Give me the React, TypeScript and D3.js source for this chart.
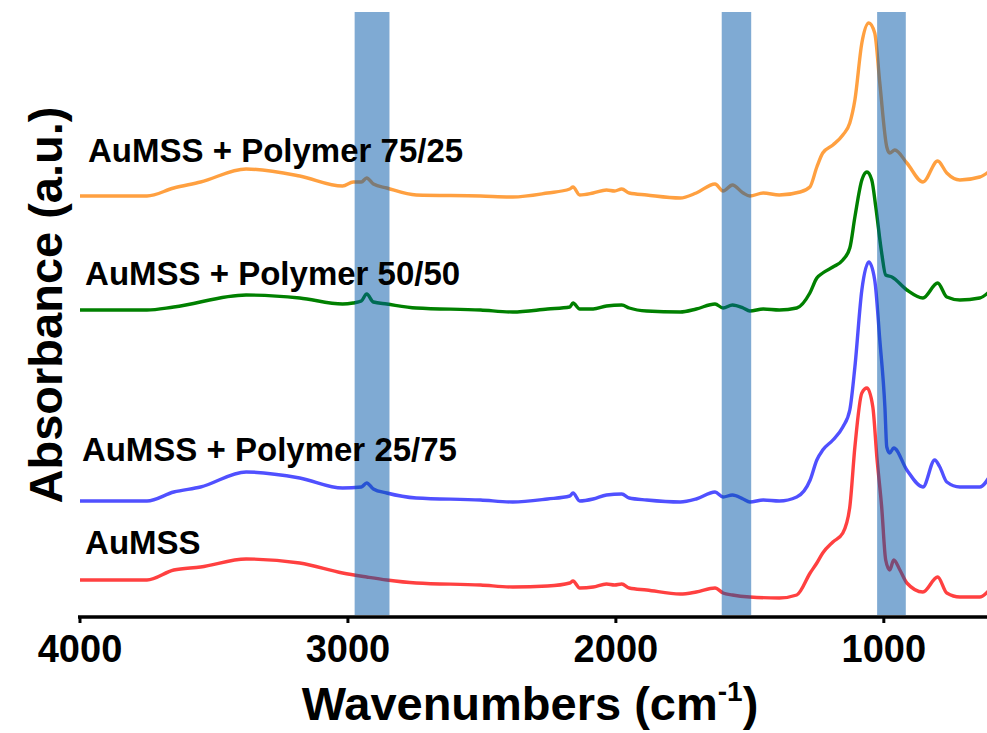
import * as d3 from 'd3';

// wavenumbers (cm-1) sampled along each trace
const wnRed = [4000, 3750, 3650, 3550, 3380, 3180, 3020, 2930, 2855, 2745, 2505, 2385, 2255, 2172, 2160, 2135, 2085, 2035, 2005, 1978, 1950, 1885, 1760, 1700, 1630, 1600, 1565, 1500, 1390, 1325, 1275, 1250, 1228, 1190, 1153, 1127, 1108, 1082, 1063, 1041, 1026, 1008, 993, 978, 963, 940, 914, 854, 799, 765, 716, 642, 600];
const auMSS = [0.37, 0.37, 0.47, 0.5, 0.58, 0.54, 0.44, 0.4, 0.37, 0.34, 0.32, 0.3, 0.31, 0.34, 0.36, 0.29, 0.3, 0.33, 0.32, 0.33, 0.29, 0.27, 0.23, 0.25, 0.29, 0.24, 0.22, 0.2, 0.19, 0.22, 0.44, 0.54, 0.64, 0.75, 0.84, 1.1, 1.7, 2.24, 2.29, 2.1, 1.6, 1.1, 0.57, 0.47, 0.57, 0.47, 0.34, 0.25, 0.4, 0.24, 0.2, 0.2, 0.29];

const wnBlue = [4000, 3750, 3650, 3550, 3380, 3180, 3020, 2950, 2930, 2905, 2855, 2745, 2505, 2385, 2255, 2172, 2160, 2135, 2085, 2035, 1978, 1950, 1885, 1760, 1700, 1630, 1600, 1565, 1525, 1500, 1450, 1390, 1325, 1275, 1250, 1228, 1190, 1153, 1127, 1108, 1082, 1056, 1034, 1015, 996, 989, 978, 963, 914, 854, 810, 791, 765, 716, 642, 600];
const poly2575 = [1.16, 1.16, 1.25, 1.3, 1.45, 1.39, 1.29, 1.3, 1.34, 1.28, 1.24, 1.19, 1.17, 1.15, 1.18, 1.21, 1.24, 1.16, 1.18, 1.22, 1.23, 1.19, 1.17, 1.15, 1.18, 1.25, 1.2, 1.22, 1.18, 1.15, 1.17, 1.16, 1.2, 1.37, 1.57, 1.67, 1.77, 1.9, 2.07, 2.5, 3.27, 3.55, 3.37, 2.77, 2.1, 1.7, 1.64, 1.69, 1.47, 1.3, 1.57, 1.5, 1.35, 1.3, 1.3, 1.43];

const wnGreen = [4000, 3750, 3650, 3380, 3180, 3020, 2981, 2950, 2930, 2905, 2855, 2745, 2505, 2385, 2255, 2172, 2160, 2135, 2085, 2035, 1978, 1950, 1885, 1760, 1700, 1630, 1600, 1565, 1525, 1500, 1450, 1390, 1325, 1276, 1250, 1228, 1190, 1153, 1127, 1108, 1082, 1063, 1045, 1030, 1008, 993, 970, 914, 854, 799, 765, 716, 642, 600];
const poly5050 = [3.07, 3.07, 3.1, 3.22, 3.19, 3.13, 3.14, 3.16, 3.23, 3.15, 3.13, 3.09, 3.07, 3.05, 3.08, 3.1, 3.14, 3.08, 3.08, 3.11, 3.12, 3.09, 3.06, 3.05, 3.08, 3.13, 3.09, 3.12, 3.09, 3.06, 3.08, 3.07, 3.09, 3.24, 3.39, 3.44, 3.5, 3.57, 3.69, 4.0, 4.37, 4.45, 4.37, 4.1, 3.64, 3.42, 3.4, 3.27, 3.19, 3.34, 3.2, 3.17, 3.19, 3.27];

const wnOrange = [4000, 3750, 3650, 3550, 3380, 3180, 3020, 2980, 2950, 2930, 2905, 2855, 2745, 2505, 2385, 2255, 2172, 2160, 2135, 2085, 2035, 2005, 1978, 1950, 1885, 1760, 1700, 1630, 1600, 1565, 1525, 1500, 1450, 1390, 1313, 1276, 1250, 1228, 1190, 1153, 1127, 1108, 1082, 1056, 1034, 1015, 989, 978, 959, 914, 854, 799, 765, 716, 642, 600];
const poly7525 = [4.21, 4.21, 4.29, 4.35, 4.48, 4.41, 4.31, 4.35, 4.35, 4.39, 4.33, 4.29, 4.22, 4.21, 4.2, 4.24, 4.28, 4.3, 4.22, 4.24, 4.27, 4.26, 4.28, 4.24, 4.22, 4.19, 4.24, 4.33, 4.26, 4.32, 4.24, 4.21, 4.24, 4.22, 4.25, 4.3, 4.5, 4.64, 4.72, 4.82, 4.94, 5.17, 5.74, 5.94, 5.84, 5.34, 4.7, 4.64, 4.67, 4.54, 4.35, 4.56, 4.44, 4.37, 4.4, 4.47];

const seriesNames = ['AuMSS', 'AuMSS + Polymer 25/75', 'AuMSS + Polymer 50/50', 'AuMSS + Polymer 75/25'];
const seriesColors = ['#ff4040', '#5050ff', '#008000', '#ffa040'];
// where each name sits (wavenumber, absorbance of baseline)
const labelWn = [3981, 3993, 3981, 3970];
const labelAbs = [0.63, 1.56, 3.32, 4.55];

// highlighted regions (cm-1)
const bandStart = [2975, 1605, 1025];
const bandEnd = [2845, 1495, 918];

const xTicks = [4000, 3000, 2000, 1000];

const W = 987;
const H = 733;
const FONT = '"Liberation Sans", Arial, Helvetica, sans-serif';

export default function App() {
  const x = d3.scaleLinear().domain([4000, 600]).range([80, 991]);
  const y = d3.scaleLinear().domain([0, 6.05]).range([617, 12]);

  const traces = [
    { wn: wnRed, a: auMSS },
    { wn: wnBlue, a: poly2575 },
    { wn: wnGreen, a: poly5050 },
    { wn: wnOrange, a: poly7525 },
  ];

  const line = d3
    .line<[number, number]>()
    .x(d => x(d[0]))
    .y(d => y(d[1]))
    .curve(d3.curveMonotoneX);

  return (
    <svg
      width={W}
      height={H}
      style={{ position: 'absolute', left: 0, top: 0, background: '#fff' }}
      fontFamily={FONT}
      fontWeight="bold"
    >
      <defs>
        <clipPath id="plot">
          <rect x={0} y={0} width={W} height={620} />
        </clipPath>
      </defs>

      <g clipPath="url(#plot)">
        {traces.map((t, i) => (
          <path
            key={seriesNames[i]}
            d={line(t.wn.map((w, j) => [w, t.a[j]] as [number, number])) || ''}
            fill="none"
            stroke={seriesColors[i]}
            strokeWidth={3.4}
            strokeLinejoin="round"
          />
        ))}

        {bandStart.map((b, i) => (
          <rect
            key={b}
            x={x(b)}
            y={y(6.05)}
            width={x(bandEnd[i]) - x(b)}
            height={y(0) - y(6.05) - 2}
            fill="#0055a7"
            fillOpacity={0.5}
          />
        ))}
      </g>

      {seriesNames.map((name, i) => (
        <text key={name} x={x(labelWn[i])} y={y(labelAbs[i])} fontSize={33} fill="#000">
          {name}
        </text>
      ))}

      {/* x axis */}
      <line x1={78} x2={W} y1={y(0)} y2={y(0)} stroke="#000" strokeWidth={3.5} />
      {xTicks.map(t => (
        <g key={t} transform={`translate(${x(t)},${y(0)})`}>
          <line y1={0} y2={6} stroke="#000" strokeWidth={3} />
          <text y={45} textAnchor="middle" fontSize={38} fill="#000">
            {t}
          </text>
        </g>
      ))}

      <text x={530} y={720} textAnchor="middle" fontSize={47} fill="#000">
        Wavenumbers (cm
        <tspan fontSize={28} dy={-19}>-1</tspan>
        <tspan dy={19}>)</tspan>
      </text>

      <text
        transform="translate(62,305) rotate(-90)"
        textAnchor="middle"
        fontSize={47}
        fill="#000"
      >
        Absorbance (a.u.)
      </text>
    </svg>
  );
}
